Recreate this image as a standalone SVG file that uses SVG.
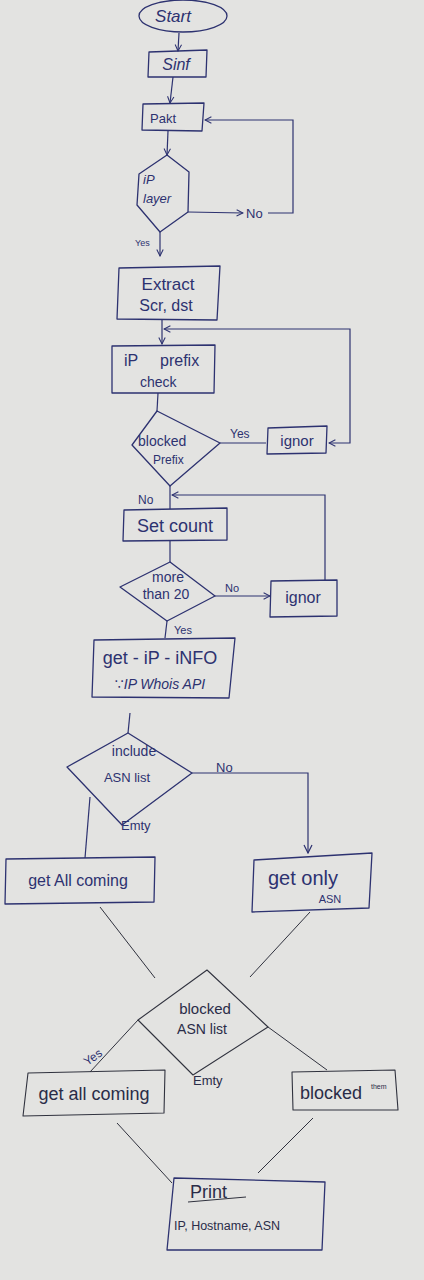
<svg xmlns="http://www.w3.org/2000/svg" width="424" height="1280" viewBox="0 0 424 1280">
<defs>
<style>
.bg{fill:#e3e3e1}
.shape{fill:none;stroke:#2d3270;stroke-width:1.3;stroke-linejoin:round}
.shape2{fill:none;stroke:#30323e;stroke-width:1.1;stroke-linejoin:round}
.line{fill:none;stroke:#2d3270;stroke-width:1.2}
.line2{fill:none;stroke:#30323e;stroke-width:1}
.t{font-family:"Liberation Sans","DejaVu Sans",sans-serif;fill:#2d3270}
.t2{font-family:"Liberation Sans","DejaVu Sans",sans-serif;fill:#2a2c48}
.i{font-style:italic}
</style>
<marker id="arr" viewBox="0 0 10 10" refX="9" refY="5" markerWidth="8" markerHeight="8" orient="auto-start-reverse" markerUnits="userSpaceOnUse">
<path d="M1,1 L9,5 L1,9" fill="none" stroke="#2d3270" stroke-width="1.3"/>
</marker>
<marker id="arr2" viewBox="0 0 10 10" refX="9" refY="5" markerWidth="10" markerHeight="10" orient="auto" markerUnits="userSpaceOnUse">
<path d="M1,1 L9,5 L1,9" fill="none" stroke="#2d3270" stroke-width="1.2"/>
</marker>
</defs>
<rect class="bg" x="0" y="0" width="424" height="1280"/>

<g id="connectors">
<line class="line" x1="179" y1="33" x2="178" y2="51" marker-end="url(#arr)"/>
<line class="line" x1="173" y1="77" x2="170" y2="103" marker-end="url(#arr)"/>
<line class="line" x1="168" y1="131" x2="167" y2="155" marker-end="url(#arr)"/>
<line class="line" x1="188" y1="212" x2="243" y2="213" marker-end="url(#arr)"/>
<text class="t" x="246" y="218" font-size="13">No</text>
<path class="line" d="M268,213 L293,213 L293,120 L205,120" marker-end="url(#arr)"/>
<line class="line" x1="160" y1="232" x2="160" y2="256" marker-end="url(#arr)"/>
<text class="t" x="135" y="246" font-size="9">Yes</text>
<line class="line" x1="162" y1="320" x2="162" y2="344" marker-end="url(#arr)"/>
<path class="line" d="M329,443 L350,443 L350,329 L164,329" marker-start="url(#arr)" marker-end="url(#arr)"/>
<line class="line" x1="158" y1="393" x2="157" y2="411"/>
<line class="line" x1="220" y1="443" x2="266" y2="443"/>
<text class="t" x="230" y="438" font-size="12">Yes</text>
<line class="line" x1="170" y1="486" x2="170" y2="509"/>
<text class="t" x="138" y="504" font-size="12">No</text>
<path class="line" d="M325,580 L325,495 L172,495" marker-end="url(#arr)"/>
<line class="line" x1="170" y1="540" x2="170" y2="562"/>
<line class="line" x1="215" y1="596" x2="270" y2="596" marker-end="url(#arr)"/>
<text class="t" x="225" y="592" font-size="11">No</text>
<line class="line" x1="167" y1="621" x2="165" y2="638"/>
<text class="t" x="174" y="634" font-size="11">Yes</text>
<line class="line" x1="130" y1="713" x2="128" y2="733"/>
<path class="line" d="M192,773 L308,773 L308,853" marker-end="url(#arr2)"/>
<text class="t" x="216" y="772" font-size="13">No</text>
<line class="line" x1="90" y1="797" x2="85" y2="858"/>
<text class="t" x="121" y="830" font-size="13">Emty</text>
<line class="line2" x1="100" y1="907" x2="155" y2="978"/>
<line class="line2" x1="310" y1="912" x2="250" y2="977"/>
<line class="line2" x1="138" y1="1020" x2="90" y2="1072"/>
<text class="t" x="83" y="1063" font-size="12" transform="rotate(-35 90 1058)">Yes</text>
<line class="line2" x1="268" y1="1027" x2="327" y2="1070"/>
<text class="t2" x="193" y="1085" font-size="13">Emty</text>
<line class="line2" x1="117" y1="1123" x2="172" y2="1183"/>
<line class="line2" x1="313" y1="1118" x2="258" y2="1173"/>
</g>

<g id="start">
<ellipse class="shape" cx="183" cy="16" rx="44" ry="16"/>
<text class="t i" x="173" y="22" font-size="17" text-anchor="middle">Start</text>
</g>
<g id="sinf">
<polygon class="shape" points="149,52 207,50 206,77 148,77"/>
<text class="t i" x="176" y="70" font-size="16" text-anchor="middle">Sinf</text>
</g>
<g id="pakt">
<polygon class="shape" points="143,104 204,103 202,131 142,130"/>
<text class="t" x="150" y="123" font-size="13">Pakt</text>
</g>
<g id="iplayer">
<polygon class="shape" points="167,155 189,172 188,212 160,232 137,205 139,174"/>
<text class="t i" x="143" y="184" font-size="13">iP</text>
<text class="t i" x="143" y="203" font-size="13">layer</text>
</g>
<g id="extract">
<polygon class="shape" points="119,268 220,266 217,320 117,319"/>
<text class="t" x="168" y="290" font-size="17" text-anchor="middle">Extract</text>
<text class="t" x="166" y="311" font-size="16" text-anchor="middle">Scr, dst</text>
</g>
<g id="prefix">
<polygon class="shape" points="112,346 215,345 214,393 112,393"/>
<text class="t" x="124" y="366" font-size="16">iP</text>
<text class="t" x="160" y="366" font-size="16">prefix</text>
<text class="t" x="140" y="387" font-size="14">check</text>
</g>
<g id="blockedprefix">
<polygon class="shape" points="157,411 220,443 170,486 132,445"/>
<text class="t" x="138" y="446" font-size="14">blocked</text>
<text class="t" x="153" y="464" font-size="12">Prefix</text>
</g>
<g id="ignor1">
<polygon class="shape" points="268,428 327,426 326,453 267,454"/>
<text class="t" x="297" y="446" font-size="15" text-anchor="middle">ignor</text>
</g>
<g id="setcount">
<polygon class="shape" points="124,510 227,508 227,540 123,541"/>
<text class="t" x="175" y="532" font-size="18" text-anchor="middle">Set count</text>
</g>
<g id="morethan20">
<polygon class="shape" points="170,562 215,596 167,621 120,587"/>
<text class="t" x="168" y="582" font-size="14" text-anchor="middle">more</text>
<text class="t" x="166" y="599" font-size="14" text-anchor="middle">than 20</text>
</g>
<g id="ignor2">
<polygon class="shape" points="271,581 337,580 337,616 270,617"/>
<text class="t" x="303" y="603" font-size="16" text-anchor="middle">ignor</text>
</g>
<g id="getinfo">
<polygon class="shape" points="94,640 235,638 229,698 92,697"/>
<text class="t" x="160" y="664" font-size="18" text-anchor="middle">get - iP - iNFO</text>
<text class="t i" x="160" y="689" font-size="14" text-anchor="middle">∵IP Whois  API</text>
</g>
<g id="includeasn">
<polygon class="shape" points="128,733 192,773 122,825 67,767"/>
<text class="t" x="134" y="756" font-size="14" text-anchor="middle">include</text>
<text class="t" x="127" y="782" font-size="13" text-anchor="middle">ASN list</text>
</g>
<g id="getall1">
<polygon class="shape" points="6,859 155,857 154,902 5,904"/>
<text class="t" x="78" y="886" font-size="16" text-anchor="middle">get All coming</text>
</g>
<g id="getonly">
<polygon class="shape" points="254,860 372,853 369,908 252,912"/>
<text class="t" x="303" y="885" font-size="20" text-anchor="middle">get only</text>
<text class="t" x="330" y="903" font-size="11" text-anchor="middle">ASN</text>
</g>
<g id="blockedasn">
<polygon class="shape2" points="207,970 268,1027 193,1075 138,1020"/>
<text class="t2" x="205" y="1014" font-size="15" text-anchor="middle">blocked</text>
<text class="t2" x="202" y="1034" font-size="14" text-anchor="middle">ASN list</text>
</g>
<g id="getall2">
<polygon class="shape2" points="28,1073 165,1070 164,1113 23,1116"/>
<text class="t2" x="94" y="1100" font-size="18" text-anchor="middle">get all coming</text>
</g>
<g id="blockedthem">
<polygon class="shape2" points="292,1072 395,1070 398,1110 293,1110"/>
<text class="t2" x="300" y="1099" font-size="18">blocked</text>
<text class="t2" x="371" y="1089" font-size="7">them</text>
</g>
<g id="print">
<polygon class="shape" points="174,1178 325,1182 322,1250 167,1250"/>
<text class="t2" x="190" y="1198" font-size="18">Print</text>
<line class="line2" x1="188" y1="1202" x2="246" y2="1197"/>
<text class="t2" x="174" y="1230" font-size="12.5">IP, Hostname, ASN</text>
</g>
</svg>
